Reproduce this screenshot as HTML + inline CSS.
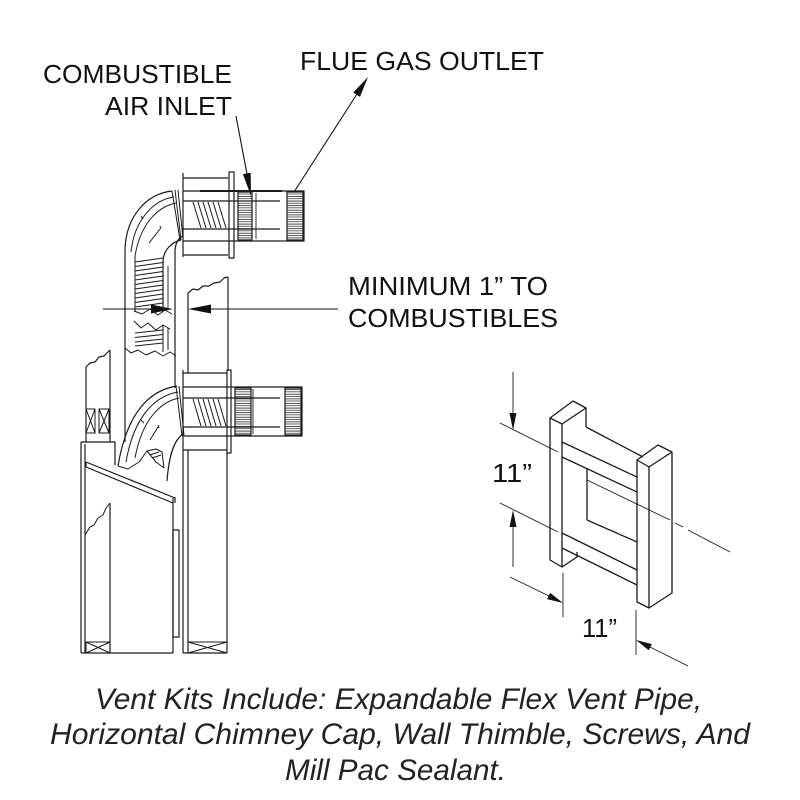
<!DOCTYPE html>
<html>
<head>
<meta charset="utf-8">
<style>
  html, body { margin: 0; padding: 0; background: #ffffff; }
  body { width: 800px; height: 800px; overflow: hidden; }
  svg { display: block; }
  .lbl { font-family: "Liberation Sans", Arial, sans-serif; font-size: 26px; fill: #111; }
  .cap { font-family: "Liberation Sans", Arial, sans-serif; font-size: 30px; font-style: italic; fill: #222; }
</style>
</head>
<body>
<svg width="800" height="800" viewBox="0 0 800 800" xmlns="http://www.w3.org/2000/svg">
  <defs>
    <pattern id="rib" patternUnits="userSpaceOnUse" width="400" height="4.6">
      <path d="M0 0.8H400M0 3.3H400" stroke="#222" stroke-width="0.75"/>
    </pattern>
  </defs>
  <rect width="800" height="800" fill="#fff"/>

  <!-- ================= LABELS ================= -->
  <text class="lbl" x="43" y="83" textLength="189" lengthAdjust="spacingAndGlyphs">COMBUSTIBLE</text>
  <text class="lbl" x="105" y="115" textLength="127" lengthAdjust="spacingAndGlyphs">AIR INLET</text>
  <text class="lbl" x="300" y="70" textLength="244" lengthAdjust="spacingAndGlyphs">FLUE GAS OUTLET</text>
  <text class="lbl" x="348" y="295" textLength="200" lengthAdjust="spacingAndGlyphs">MINIMUM 1” TO</text>
  <text class="lbl" x="348" y="327" textLength="210" lengthAdjust="spacingAndGlyphs">COMBUSTIBLES</text>
  <text class="lbl" x="492" y="482" textLength="40" lengthAdjust="spacingAndGlyphs">11”</text>
  <text class="lbl" x="582" y="637" textLength="35" lengthAdjust="spacingAndGlyphs">11”</text>

  <text class="cap" x="95" y="709" textLength="607" lengthAdjust="spacingAndGlyphs">Vent Kits Include: Expandable Flex Vent Pipe,</text>
  <text class="cap" x="50" y="744" textLength="700" lengthAdjust="spacingAndGlyphs">Horizontal Chimney Cap, Wall Thimble, Screws, And</text>
  <text class="cap" x="285" y="780" textLength="221" lengthAdjust="spacingAndGlyphs">Mill Pac Sealant.</text>

  <!-- leader arrows -->
  <g stroke="#111" stroke-width="1.1" fill="none">
    <path d="M236 116L247 174"/>
    <path d="M294 192L357 94"/>
    <path d="M103 309H153 M209 309H338"/>
  </g>
  <g fill="#111" stroke="none">
    <polygon points="251,196 250.7,172.7 242.9,174.1"/>
    <polygon points="368,77 360,96.9 353.2,92.5"/>
    <polygon points="173,309 151,304.5 151,313.5"/>
    <polygon points="188,309 211,304.5 211,313.5"/>
  </g>

  <!-- ================= LEFT DRAWING ================= -->
  <g fill="none" stroke="#1a1a1a" stroke-width="1.2" stroke-linejoin="round">
    <!-- upper thimble & flange -->
    <path d="M183 173V257 M183 178H228 M183 255H228"/>
    <rect x="229" y="172" width="5" height="86" fill="#fff"/>
    <!-- upper pipe -->
    <path d="M183 191H304V241H183 M183 201H280 M183 229H280"/>
    <path d="M200 191H282" stroke-width="2"/>
    <rect x="238" y="192" width="14" height="48" fill="url(#rib)"/>
    <path d="M256 193V239" stroke-width="0.9"/>
    <rect x="287" y="192" width="16" height="48" fill="url(#rib)"/>
    <path d="M193 202L201 228 M198 202L206 228 M203 202L211 228 M208 202L216 228 M213 202L221 228 M218 202L226 228" stroke-width="1"/>
    <!-- upper cuff -->
    <path d="M172 191L180 240 M175 190L181 240 M178 190L183 239" stroke-width="1"/>
    <!-- upper elbow -->
    <path d="M172 191C146 194 125 217 125 252V442"/>
    <path d="M174 197C152 200 134 222 131 252" stroke-width="1"/>
    <path d="M176 203C156 207 140 226 135 256V312" stroke-width="1"/>
    <path d="M181 240C172 242 163 250 163 262V312"/>
    <path d="M183 236C178 238 175 244 175 252V388"/>
    <path d="M168 266V308" stroke-width="0.9"/>
    <path d="M149 243L160 229 M141 216L143 219 M160 226L161 229" stroke-width="1"/>
    <!-- upper flex ribs -->
    <path stroke-width="1" d="M135 262L163 258 M135 266.5L163 262.5 M135 271L163 267 M135 275.5L163 271.5 M135 280L163 276 M135 284.5L163 280.5 M135 289L163 285 M135 293.5L163 289.5 M135 298L163 294 M135 302.5L163 298.5 M135 307L163 303"/>
    <!-- break -->
    <path stroke-width="1" d="M134 311L142 314L150 309L158 315L165 310L172 314"/>
    <path stroke-width="1" d="M134 321L141 328L148 323L156 330L163 325L170 329"/>
    <path stroke-width="1" d="M135 333L163 330 M135 337.5L163 334.5 M135 342L163 339 M135 346L163 343 M163 325V352 M168 328V350"/>
    <path stroke-width="1" d="M125 348L131 353L138 350L146 355L155 351L163 356L170 352L176 356"/>

    <!-- upper wall section (broken) -->
    <path d="M188 293V373 M228 277V370 M188 293L193 289L198 290L203 286L209 286L214 283L220 282L224 278L228 277"/>

    <!-- left chase wall piece -->
    <path d="M86 367V442 M110 350V442 M86 367L90 363L95 362L99 357L104 356L110 350"/>
    <path stroke-width="1" d="M86 409H95V433H86Z M86 409L95 433 M95 409L86 433 M99 409H109V433H99Z M99 409L109 433 M109 409L99 433"/>

    <!-- lower thimble & flange -->
    <path d="M183 370V653 M183 373H227 M183 450H227"/>
    <rect x="227" y="370" width="4" height="83" fill="#fff"/>
    <!-- lower pipe -->
    <path d="M183 387H302V436H183 M183 398H280 M183 427H280"/>
    <rect x="235" y="388" width="16" height="47" fill="url(#rib)"/>
    <path d="M253 389V434" stroke-width="0.9"/>
    <rect x="285" y="388" width="16" height="47" fill="url(#rib)"/>
    <path d="M193 399L201 426 M198 399L206 426 M203 399L211 426 M208 399L216 426 M213 399L221 426 M218 399L226 426" stroke-width="1"/>
    <!-- lower cuff -->
    <path d="M176 386L182 436 M179 386L184 435" stroke-width="1"/>
    <!-- lower elbow -->
    <path d="M177 386C150 390 127 412 118 466"/>
    <path d="M178 392C155 396 134 416 126 462" stroke-width="1"/>
    <path d="M179 398C160 402 142 420 135 458" stroke-width="1"/>
    <path d="M183 434C174 440 169 455 167 481"/>
    <path d="M141 420L144 423 M158 425L159 428 M150 440L158 427" stroke-width="1"/>
    <!-- collar blob -->
    <path stroke-width="1" d="M118 466L128 469L139 462L147 451L156 449L162 452L164 468 M147 451L156 462L164 468 M150 455L159 452 M152 458L161 455"/>

    <!-- fireplace body -->
    <path d="M81 442V653 M85 444V653 M81 442H115V465 M81 653H173 M173 498V653 M110 503V653"/>
    <path d="M86 462L175 498 M86 467L173 503 M175 497V503 M86 462V467"/>
    <path stroke-width="1" d="M85 535L90 527L94 525L98 518L103 515L106 508L110 503"/>
    <path stroke-width="1" d="M86 642H110V653H86Z M86 642L110 653 M110 642L86 653"/>
    <rect x="173" y="530" width="6" height="107"/>

    <!-- lower wall -->
    <path d="M188 450V653 M227 453V653 M183 653H227"/>
    <path stroke-width="1" d="M188 642H227 M188 642L227 653 M227 642L188 653"/>
  </g>

  <!-- ================= WALL THIMBLE (right) ================= -->
  <g fill="none" stroke="#1a1a1a" stroke-width="1.3" stroke-linejoin="round">
    <!-- left post -->
    <path d="M550 418L573 401L586 408L562 424Z"/>
    <path d="M550 418V560L562 567V424"/>
    <path d="M586 408V427"/>
    <!-- top crossbar -->
    <path d="M586 427L643 457 M562 442L637 477 M562 457L637 492 M587 468V520"/>
    <!-- bottom crossbar -->
    <path d="M587 520L637 542 M562 533L637 570 M562 548L637 585"/>
    <path d="M562 567L577 557V552"/>
    <!-- right post -->
    <path d="M637 460L658 445L672 452L649 467Z"/>
    <path d="M637 460V602L649 608V467"/>
    <path d="M672 452V593L649 608"/>
  </g>

  <!-- dimension / center lines -->
  <g fill="none" stroke="#1a1a1a" stroke-width="0.9">
    <path d="M587 480L670 520 M675 523L683 527 M688 530L730 552"/>
    <path d="M500 423L558 452 M500 503L558 532"/>
    <path d="M513 372V414 M513 526V567"/>
    <path d="M563 573V617 M636 610V655"/>
    <path d="M510 577L549 596 M650 647L688 666"/>
  </g>
  <g fill="#111" stroke="none">
    <polygon points="513,430 509.5,413 516.5,413"/>
    <polygon points="513,510 509.5,527 516.5,527"/>
    <polygon points="563,603 547.1,599.1 550.1,592.9"/>
    <polygon points="636,640 648.7,650.3 651.9,644.1"/>
  </g>
</svg>
</body>
</html>
